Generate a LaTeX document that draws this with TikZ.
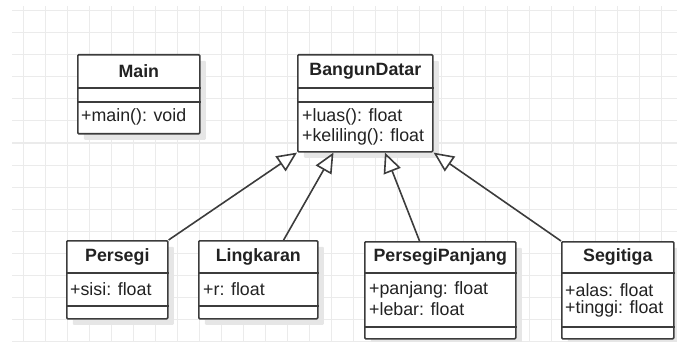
\documentclass[tikz,border=0pt]{standalone}
\usepackage{fontspec}
\setmainfont{Liberation Sans}
\usetikzlibrary{arrows.meta,calc,shadows}
\definecolor{linec}{HTML}{3C3C3C}
\definecolor{textc}{HTML}{222222}
\definecolor{gridc}{HTML}{EBEBEB}
\definecolor{shadowc}{HTML}{E6E6E6}
\tikzset{
  umlbox/.style={draw=linec, line width=1.6pt, fill=white, rounded corners=1pt,
    inner sep=0pt, anchor=north west,
    drop shadow={shadow xshift=6pt, shadow yshift=-6pt, fill=shadowc, opacity=1}},
  classtitle/.style={font=\bfseries\fontsize{17.8}{20}\selectfont, text=textc, inner sep=0pt},
  member/.style={font=\fontsize{17.8}{20}\selectfont, text=textc, inner sep=0pt, anchor=west},
  sepline/.style={draw=linec, line width=1.6pt},
  gridline/.style={draw=gridc, line width=1pt},
  inherit/.style={draw=linec, line width=1.6pt,
    -{Triangle[fill=white, length=20pt, width=18pt, line join=miter]}},
}
\begin{document}
\begin{tikzpicture}[x=1pt, y=-1pt]
  \useasboundingbox (0,0) rectangle (677,342);
  % background grid
  \foreach \gx in {23,45,...,677} \draw[gridline] (\gx,6) -- (\gx,342);
  \foreach \gy in {11,33,...,342} \draw[gridline] (12,\gy) -- (677,\gy);

  % Main
  \node[umlbox, minimum width=122pt, minimum height=79pt] (main) at (77,54) {};
  \draw[sepline] ($(main.north west)+(0,34)$) -- ($(main.north east)+(0,34)$);
  \draw[sepline] ($(main.north west)+(0,48)$) -- ($(main.north east)+(0,48)$);
  \node[classtitle] (mainT) at ($(main.north)+(0,17)$) {Main};
  \node[member] (mainM) at ($(main.north west)+(4,63)$) {+main(): void};

  % BangunDatar
  \node[umlbox, minimum width=135pt, minimum height=97pt] (bangun) at (297,54) {};
  \draw[sepline] ($(bangun.north west)+(0,34)$) -- ($(bangun.north east)+(0,34)$);
  \draw[sepline] ($(bangun.north west)+(0,48)$) -- ($(bangun.north east)+(0,48)$);
  \node[classtitle] (bangunT) at ($(bangun.north)+(0,17)$) {BangunDatar};
  \node[member] (bangunM1) at ($(bangun.north west)+(5,63)$) {+luas(): float};
  \node[member] (bangunM2) at ($(bangun.north west)+(5,83)$) {+keliling(): float};

  % Persegi
  \node[umlbox, minimum width=101pt, minimum height=78pt] (persegi) at (66,240) {};
  \draw[sepline] ($(persegi.north west)+(0,33)$) -- ($(persegi.north east)+(0,33)$);
  \draw[sepline] ($(persegi.north west)+(0,66)$) -- ($(persegi.north east)+(0,66)$);
  \node[classtitle] (persegiT) at ($(persegi.north)+(0,16.5)$) {Persegi};
  \node[member] (persegiA) at ($(persegi.north west)+(4,49)$) {+sisi: float};

  % Lingkaran
  \node[umlbox, minimum width=119pt, minimum height=78pt] (lingkaran) at (198,240) {};
  \draw[sepline] ($(lingkaran.north west)+(0,33)$) -- ($(lingkaran.north east)+(0,33)$);
  \draw[sepline] ($(lingkaran.north west)+(0,66)$) -- ($(lingkaran.north east)+(0,66)$);
  \node[classtitle] (lingkaranT) at ($(lingkaran.north)+(0,16.5)$) {Lingkaran};
  \node[member] (lingkaranA) at ($(lingkaran.north west)+(5,49)$) {+r: float};

  % PersegiPanjang
  \node[umlbox, minimum width=151pt, minimum height=97pt] (ppanjang) at (364,241) {};
  \draw[sepline] ($(ppanjang.north west)+(0,32)$) -- ($(ppanjang.north east)+(0,32)$);
  \draw[sepline] ($(ppanjang.north west)+(0,86)$) -- ($(ppanjang.north east)+(0,86)$);
  \node[classtitle] (ppanjangT) at ($(ppanjang.north)+(0,16)$) {PersegiPanjang};
  \node[member] (ppanjangA1) at ($(ppanjang.north west)+(5,49)$) {+panjang: float};
  \node[member] (ppanjangA2) at ($(ppanjang.north west)+(5,68)$) {+lebar: float};

  % Segitiga
  \node[umlbox, minimum width=112pt, minimum height=97pt] (segitiga) at (561,241) {};
  \draw[sepline] ($(segitiga.north west)+(0,32)$) -- ($(segitiga.north east)+(0,32)$);
  \draw[sepline] ($(segitiga.north west)+(0,86)$) -- ($(segitiga.north east)+(0,86)$);
  \node[classtitle] (segitigaT) at ($(segitiga.north)+(0,16)$) {Segitiga};
  \node[member] (segitigaA1) at ($(segitiga.north west)+(4,49)$) {+alas: float};
  \node[member] (segitigaA2) at ($(segitiga.north west)+(4,68)$) {+tinggi: float};

  % generalisation connectors
  \draw[inherit] (persegi.north east) -- (bangun.south west);
  \draw[inherit] ($(lingkaran.north west)!0.71!(lingkaran.north east)$)
                 -- ($(bangun.south west)!0.267!(bangun.south east)$);
  \draw[inherit] ($(ppanjang.north west)!0.364!(ppanjang.north east)$)
                 -- ($(bangun.south west)!0.644!(bangun.south east)$);
  \draw[inherit] (segitiga.north west) -- (bangun.south east);
\end{tikzpicture}
\end{document}
